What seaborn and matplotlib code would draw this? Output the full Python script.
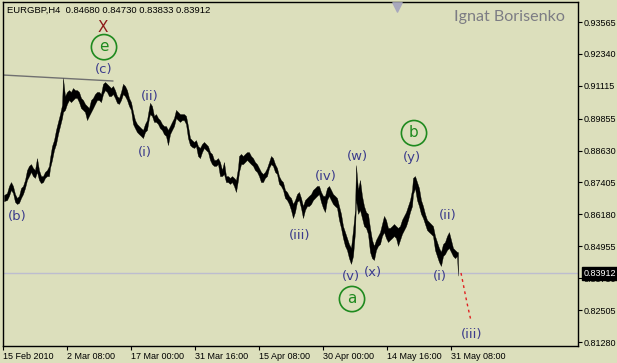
import numpy as np
import pandas as pd
import matplotlib
matplotlib.use('Agg')
import matplotlib.pyplot as plt
import matplotlib.transforms as mtrans
import seaborn as sns

# EURGBP H4, bar index counted from 15 Feb 2010 00:00
bars = [1, 4, 6, 8, 10, 12, 14, 16, 18, 20, 22, 24, 26, 28, 30, 32, 34, 36, 38, 40,
        42, 44, 46, 47, 49, 51, 53, 55, 57, 59, 60, 62, 64, 66, 68, 70, 72, 74, 76, 78,
        80, 82, 84, 86, 88, 90, 92, 94, 96, 98, 100, 102, 104, 106, 108, 110, 112, 114, 116, 118,
        120, 122, 124, 126, 128, 130, 132, 134, 136, 138, 140, 142, 144, 146, 147, 149, 151, 153, 155, 157,
        159, 161, 163, 165, 167, 169, 171, 173, 175, 177, 179, 181, 183, 185, 187, 189, 191, 193, 195, 197,
        199, 201, 203, 205, 207, 209, 211, 213, 215, 217, 219, 221, 223, 225, 227, 229, 231, 233, 235, 236,
        238, 240, 242, 244, 246, 248, 250, 252, 254, 256, 258, 260, 262, 264, 266, 268, 270, 272, 274, 276,
        278, 280, 282, 284, 286, 288, 290, 292, 294, 296, 298, 300, 302, 304, 306, 308, 310, 312, 314, 316,
        318, 320, 322, 324, 326, 328, 330, 332, 334, 336, 338, 340, 342, 344, 346, 348, 350, 352, 353, 355,
        357, 359, 361, 363, 365, 367, 369, 371, 373, 375, 377, 379, 381, 383, 385, 387, 389, 391, 393, 395,
        397, 399, 401, 403, 405, 407, 409, 410, 412, 414, 416, 418, 420, 422, 424, 426, 428, 430, 432, 434,
        436, 438, 440, 442, 444, 446, 448, 450, 452, 454, 455]

highs = [0.8692, 0.8700, 0.8727, 0.8742, 0.8727, 0.8696, 0.8681, 0.8689, 0.8719, 0.8727,
         0.8750, 0.8788, 0.8804, 0.8811, 0.8796, 0.8788, 0.8834, 0.8788, 0.8765, 0.8765,
         0.8781, 0.8788, 0.8804, 0.8834, 0.8880, 0.8903, 0.8942, 0.8973, 0.9003, 0.9038,
         0.9141, 0.9072, 0.9088, 0.9095, 0.9088, 0.9103, 0.9095, 0.9095, 0.9088, 0.9065,
         0.9057, 0.9042, 0.9034, 0.9026, 0.9057, 0.9065, 0.9080, 0.9088, 0.9088, 0.9080,
         0.9119, 0.9126, 0.9119, 0.9111, 0.9103, 0.9111, 0.9095, 0.9072, 0.9065, 0.9088,
         0.9119, 0.9111, 0.9095, 0.9065, 0.9049, 0.9011, 0.8980, 0.8965, 0.8957, 0.8949,
         0.8942, 0.8965, 0.8980, 0.9026, 0.9046, 0.9034, 0.8996, 0.9003, 0.8988, 0.8980,
         0.8965, 0.8957, 0.8957, 0.8942, 0.8957, 0.8973, 0.8988, 0.9019, 0.9011, 0.9003,
         0.9003, 0.9003, 0.8996, 0.8957, 0.8911, 0.8903, 0.8896, 0.8903, 0.8880, 0.8873,
         0.8888, 0.8896, 0.8888, 0.8880, 0.8857, 0.8850, 0.8827, 0.8827, 0.8834, 0.8819,
         0.8788, 0.8819, 0.8765, 0.8765, 0.8758, 0.8765, 0.8758, 0.8750, 0.8796, 0.8842,
         0.8850, 0.8842, 0.8850, 0.8857, 0.8857, 0.8842, 0.8834, 0.8819, 0.8811, 0.8796,
         0.8781, 0.8773, 0.8781, 0.8796, 0.8819, 0.8842, 0.8834, 0.8811, 0.8796, 0.8765,
         0.8750, 0.8742, 0.8712, 0.8704, 0.8689, 0.8681, 0.8658, 0.8673, 0.8696, 0.8704,
         0.8681, 0.8650, 0.8673, 0.8681, 0.8689, 0.8696, 0.8712, 0.8719, 0.8727, 0.8727,
         0.8704, 0.8689, 0.8689, 0.8719, 0.8727, 0.8712, 0.8696, 0.8689, 0.8681, 0.8650,
         0.8620, 0.8573, 0.8550, 0.8527, 0.8504, 0.8489, 0.8558, 0.8635, 0.8807, 0.8712,
         0.8750, 0.8689, 0.8650, 0.8627, 0.8620, 0.8566, 0.8520, 0.8497, 0.8520, 0.8535,
         0.8550, 0.8581, 0.8612, 0.8597, 0.8566, 0.8566, 0.8573, 0.8581, 0.8573, 0.8566,
         0.8573, 0.8597, 0.8612, 0.8627, 0.8650, 0.8673, 0.8712, 0.8758, 0.8765, 0.8742,
         0.8719, 0.8673, 0.8650, 0.8620, 0.8597, 0.8589, 0.8581, 0.8573, 0.8535, 0.8512,
         0.8489, 0.8474, 0.8504, 0.8512, 0.8535, 0.8550, 0.8520, 0.8489, 0.8481, 0.8474,
         0.8473]

lows = [0.8669, 0.8673, 0.8689, 0.8712, 0.8700, 0.8666, 0.8658, 0.8662, 0.8681, 0.8696,
        0.8719, 0.8750, 0.8765, 0.8781, 0.8765, 0.8758, 0.8781, 0.8750, 0.8738, 0.8742,
        0.8758, 0.8765, 0.8765, 0.8796, 0.8827, 0.8865, 0.8888, 0.8926, 0.8957, 0.8988,
        0.9011, 0.9019, 0.9042, 0.9057, 0.9049, 0.9057, 0.9065, 0.9065, 0.9049, 0.9026,
        0.9019, 0.9011, 0.8980, 0.8996, 0.9011, 0.9026, 0.9042, 0.9057, 0.9057, 0.9049,
        0.9080, 0.9095, 0.9088, 0.9072, 0.9072, 0.9080, 0.9065, 0.9046, 0.9042, 0.9057,
        0.9080, 0.9072, 0.9057, 0.9034, 0.9019, 0.8965, 0.8949, 0.8934, 0.8926, 0.8919,
        0.8911, 0.8934, 0.8942, 0.8988, 0.9003, 0.8996, 0.8973, 0.8973, 0.8965, 0.8949,
        0.8942, 0.8926, 0.8919, 0.8884, 0.8926, 0.8942, 0.8957, 0.8988, 0.8980, 0.8973,
        0.8980, 0.8980, 0.8965, 0.8911, 0.8884, 0.8877, 0.8873, 0.8880, 0.8842, 0.8834,
        0.8857, 0.8873, 0.8865, 0.8857, 0.8827, 0.8811, 0.8804, 0.8804, 0.8811, 0.8765,
        0.8765, 0.8773, 0.8742, 0.8742, 0.8735, 0.8742, 0.8727, 0.8704, 0.8750, 0.8781,
        0.8811, 0.8811, 0.8819, 0.8827, 0.8819, 0.8811, 0.8804, 0.8788, 0.8781, 0.8765,
        0.8742, 0.8742, 0.8758, 0.8765, 0.8796, 0.8811, 0.8804, 0.8781, 0.8773, 0.8735,
        0.8727, 0.8712, 0.8681, 0.8673, 0.8658, 0.8635, 0.8604, 0.8627, 0.8666, 0.8673,
        0.8643, 0.8604, 0.8635, 0.8650, 0.8650, 0.8658, 0.8673, 0.8681, 0.8689, 0.8696,
        0.8666, 0.8643, 0.8627, 0.8673, 0.8689, 0.8673, 0.8658, 0.8650, 0.8643, 0.8597,
        0.8566, 0.8527, 0.8497, 0.8481, 0.8450, 0.8428, 0.8458, 0.8550, 0.8673, 0.8620,
        0.8635, 0.8604, 0.8573, 0.8566, 0.8543, 0.8474, 0.8450, 0.8443, 0.8481, 0.8497,
        0.8504, 0.8535, 0.8550, 0.8527, 0.8512, 0.8520, 0.8527, 0.8535, 0.8527, 0.8497,
        0.8520, 0.8543, 0.8558, 0.8573, 0.8597, 0.8627, 0.8650, 0.8696, 0.8719, 0.8673,
        0.8650, 0.8620, 0.8604, 0.8581, 0.8558, 0.8550, 0.8543, 0.8535, 0.8481, 0.8458,
        0.8435, 0.8420, 0.8458, 0.8466, 0.8481, 0.8489, 0.8474, 0.8458, 0.8450, 0.8458,
        0.8383]

last_close = 0.83912
header = "EURGBP,H4  0.84680 0.84730 0.83833 0.83912"

# trend line across the (c) top and projected path to (iii)
trend_bars = [0, 110]
trend_prices = [0.9153, 0.9130]
proj_bars = [458, 460, 462, 464, 468]
proj_prices = [0.8393, 0.8355, 0.8316, 0.8278, 0.8209]

ytick_vals = [0.93565, 0.92340, 0.91115, 0.89855, 0.88630, 0.87405, 0.86180,
              0.84955, 0.83730, 0.82505, 0.81280]
xtick_bars = [0, 64, 128, 192, 256, 320, 384, 448]
xtick_labels = ["15 Feb 2010", "2 Mar 08:00", "17 Mar 00:00", "31 Mar 16:00",
                "15 Apr 08:00", "30 Apr 00:00", "14 May 16:00", "31 May 08:00"]

wave_text = ["(c)", "(ii)", "(i)", "(b)", "(iii)", "(iv)", "(w)", "(y)",
             "(ii)", "(v)", "(x)", "(i)", "(iii)"]
wave_bar = [101, 147, 142, 14, 297, 323, 354, 409, 445, 348, 370, 437, 469]
wave_price = [0.9176, 0.9072, 0.8857, 0.8608, 0.8535, 0.8762, 0.8842, 0.8838,
              0.8612, 0.8378, 0.8393, 0.8378, 0.8155]

circle_text = ["e", "b", "a"]
circle_bar = [101, 411, 349]
circle_price = [0.9260, 0.8930, 0.8293]

bg = '#dcdfbc'
wave_col = '#3b3b8c'
green = '#1f8a1f'

sns.set_theme(style='white', rc={'axes.facecolor': bg, 'figure.facecolor': bg})
plt.rcParams['font.family'] = ['Liberation Sans', 'DejaVu Sans']

fig = plt.figure(figsize=(6.17, 3.63), dpi=100)
ax = fig.add_axes([2.5 / 617, 17 / 363, 575 / 617, 344 / 363])

df = pd.DataFrame({'bar': bars, 'high': highs, 'low': lows})

ax.axhline(last_close, color='#bdbdcf', lw=1, zorder=1)
ax.fill_between(df['bar'], df['low'], df['high'], color='black', lw=0.25,
                edgecolor='black', zorder=3)

sns.lineplot(x=trend_bars, y=trend_prices, ax=ax, color='#707070', lw=1, zorder=2)
sns.lineplot(x=proj_bars, y=proj_prices, ax=ax, color='#e02020', lw=1,
             linestyle=(0, (2, 2.5)), zorder=3)

for t, b, p in zip(wave_text, wave_bar, wave_price):
    ax.text(b, p, t, color=wave_col, fontsize=9.5, ha='center', va='center',
            family='DejaVu Sans', zorder=5)

ax.scatter(circle_bar, circle_price, s=330, facecolors='none', edgecolors=green,
           linewidths=1.2, zorder=5)
for t, b, p in zip(circle_text, circle_bar, circle_price):
    ax.text(b, p + 0.0003, t, color=green, fontsize=11, ha='center', va='center',
            family='DejaVu Sans', zorder=6)
ax.text(100, 0.9337, "X", color='#8e1a1a', fontsize=11, ha='center', va='center',
        family='DejaVu Sans', zorder=6)

ax.text(0.008, 0.977, header, transform=ax.transAxes, fontsize=6.8,
        color='black', ha='left', va='center')
ax.text(0.978, 0.955, "Ignat Borisenko", transform=ax.transAxes,
        fontsize=11.6, color='#7c7c84', ha='right', va='center', family='Lato')

# shift marker at top
tr = mtrans.blended_transform_factory(ax.transData, ax.transAxes)
ax.scatter([394], [0.985], marker='v', s=45, color='#a8a8bc', transform=tr,
           zorder=4, clip_on=False)

ax.set_xlim(-0.5, 574.5)
ax.set_ylim(0.81127, 0.94333)

ax.yaxis.tick_right()
ax.set_yticks(ytick_vals)
ax.set_yticklabels([f"{v:.5f}" for v in ytick_vals])
ax.set_xticks(xtick_bars)
ax.set_xticklabels(xtick_labels, ha='left')
ax.tick_params(axis='y', right=True, length=3, width=0.8, pad=1.5,
               labelsize=6.5, colors='black')
ax.tick_params(axis='x', bottom=True, length=3, width=0.8, pad=1.5,
               labelsize=6.5, colors='black')

for s in ax.spines.values():
    s.set_color('black')
    s.set_linewidth(1)

# current price tag
ax.annotate(f"{last_close:.5f}", xy=(1.0, last_close),
            xycoords=('axes fraction', 'data'), xytext=(4.5, 0),
            textcoords='offset points', fontsize=6.5, color='white',
            va='center', ha='left', annotation_clip=False, zorder=10,
            bbox=dict(boxstyle='square,pad=0.18', fc='black', ec='black'))

ax.set_xlabel('')
ax.set_ylabel('')
fig.savefig('out.png', dpi=100, facecolor=bg)
